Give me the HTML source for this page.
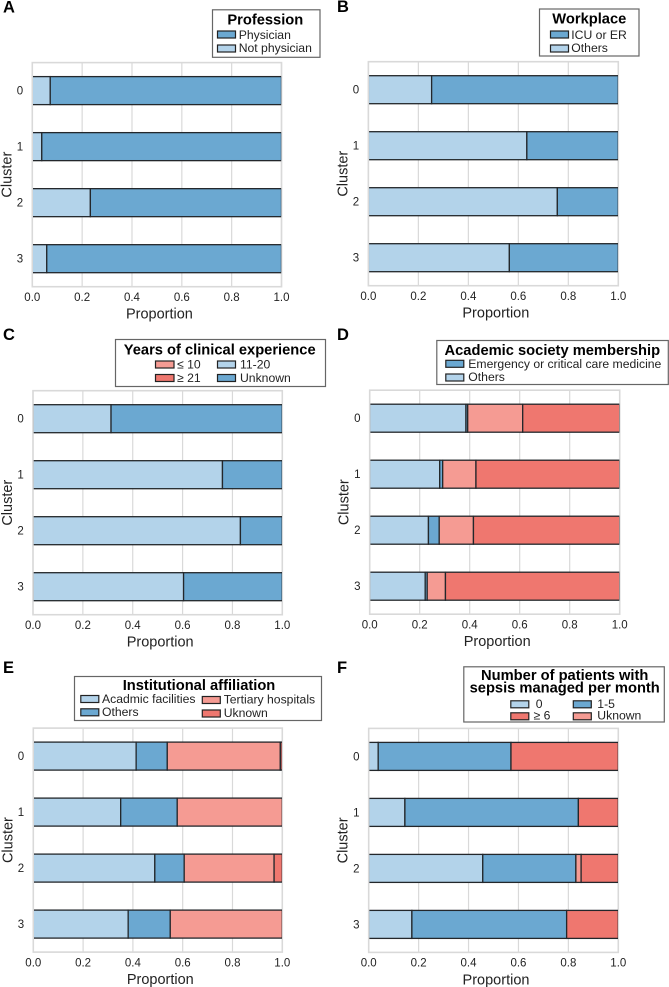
<!DOCTYPE html>
<html lang="en">
<head>
<meta charset="utf-8">
<title>Cluster proportions by respondent characteristics</title>
<style>
html,body{margin:0;padding:0;background:#fff;width:669px;height:987px;overflow:hidden}
svg{display:block;font-family:"Liberation Sans",Arial,sans-serif}
text{fill:#222}
.tick{font-size:11.5px}
.axis-title{font-size:14.5px}
.letter{font-size:16.5px;font-weight:bold;fill:#000}
.lt{font-size:14.7px;font-weight:bold;fill:#000;text-anchor:middle}
.li{font-size:12.2px}
.lb{fill:#fff;stroke:#666;stroke-width:1.2}
.lp{stroke:#222;stroke-width:1.2}
</style>
</head>
<body>
<svg id="figure" xmlns="http://www.w3.org/2000/svg" width="669" height="987" viewBox="0 0 669 987">
<rect width="669" height="987" fill="#fff"/>
<g id="plots"></g>

<text class="letter" x="3" y="12.3">A</text>
<text class="letter" x="337" y="12">B</text>
<text class="letter" x="3" y="340">C</text>
<text class="letter" x="337" y="340">D</text>
<text class="letter" x="3" y="673">E</text>
<text class="letter" x="337" y="673">F</text>

<g>
<rect class="lb" x="212.5" y="9.8" width="107.5" height="47.5"/>
<text class="lt" x="265.3" y="24.5">Profession</text>
<rect class="lp" x="217.5" y="31" width="18" height="7" fill="#6ba8d1"/>
<text class="li" x="238.7" y="38.8">Physician</text>
<rect class="lp" x="217.5" y="45" width="18" height="7" fill="#b3d3ea"/>
<text class="li" x="238.7" y="52.2">Not physician</text>
</g>

<g>
<rect class="lb" x="539.5" y="9" width="99.5" height="47"/>
<text class="lt" x="589.3" y="23.7">Workplace</text>
<rect class="lp" x="550.5" y="31" width="18" height="7" fill="#6ba8d1"/>
<text class="li" x="571.3" y="38.8">ICU or ER</text>
<rect class="lp" x="550.5" y="45" width="18" height="7" fill="#b3d3ea"/>
<text class="li" x="571.3" y="52.2">Others</text>
</g>

<g>
<rect class="lb" x="115.5" y="339.5" width="210" height="47"/>
<text class="lt" x="219.7" y="354.7">Years of clinical experience</text>
<rect class="lp" x="155.5" y="361" width="18.5" height="7" fill="#f59b93"/>
<text class="li" x="177" y="368.4">≤ 10</text>
<rect class="lp" x="155.5" y="374.5" width="18.5" height="7" fill="#ef776f"/>
<text class="li" x="177" y="382">≥ 21</text>
<rect class="lp" x="217.5" y="361" width="18" height="7" fill="#b3d3ea"/>
<text class="li" x="240" y="368.4">11-20</text>
<rect class="lp" x="217.5" y="374.5" width="18" height="7" fill="#6ba8d1"/>
<text class="li" x="240" y="382">Unknown</text>
</g>

<g>
<rect class="lb" x="436.8" y="340.5" width="231.5" height="44"/>
<text class="lt" x="552.3" y="355">Academic society membership</text>
<rect class="lp" x="445.8" y="360.3" width="18" height="7" fill="#6ba8d1"/>
<text class="li" x="468.3" y="367.8">Emergency or critical care medicine</text>
<rect class="lp" x="445.8" y="374" width="18" height="7" fill="#b3d3ea"/>
<text class="li" x="468.3" y="381">Others</text>
</g>

<g>
<rect class="lb" x="74.5" y="676.5" width="247" height="44"/>
<text class="lt" x="199" y="690">Institutional affiliation</text>
<rect class="lp" x="80.8" y="695.5" width="18" height="7" fill="#b3d3ea"/>
<text class="li" x="102" y="702.8">Acadmic facilities</text>
<rect class="lp" x="80.8" y="708.8" width="18" height="7" fill="#6ba8d1"/>
<text class="li" x="102" y="716">Others</text>
<rect class="lp" x="202.3" y="696.5" width="18" height="7" fill="#f59b93"/>
<text class="li" x="223.7" y="703.5">Tertiary hospitals</text>
<rect class="lp" x="202.3" y="710" width="18" height="7" fill="#ef776f"/>
<text class="li" x="223.7" y="717">Uknown</text>
</g>

<g>
<rect class="lb" x="463.8" y="666.8" width="200.5" height="55.2"/>
<text class="lt" x="564.7" y="680">Number of patients with</text>
<text class="lt" x="564.7" y="692.7">sepsis managed per month</text>
<rect class="lp" x="510.8" y="700.8" width="18" height="7" fill="#b3d3ea"/>
<text class="li" x="535.7" y="708">0</text>
<rect class="lp" x="510.8" y="712.8" width="18" height="7" fill="#ef776f"/>
<text class="li" x="533.5" y="719.5">≥ 6</text>
<rect class="lp" x="573.3" y="700.8" width="18" height="7" fill="#6ba8d1"/>
<text class="li" x="597.3" y="708">1-5</text>
<rect class="lp" x="573.3" y="712.8" width="18" height="7" fill="#f59b93"/>
<text class="li" x="597.3" y="719.5">Uknown</text>
</g>
</svg>

<script>
// Shared axis data
const clusterLabels = ['0', '1', '2', '3'];
const proportionTicks = [0, 0.2, 0.4, 0.6, 0.8, 1.0];

// Panel A: Profession
const aNotPhysician = [0.072, 0.038, 0.233, 0.058];
const aPhysician = [0.928, 0.962, 0.767, 0.942];

// Panel B: Workplace
const bOthers = [0.253, 0.634, 0.756, 0.564];
const bIcuOrEr = [0.747, 0.366, 0.244, 0.436];

// Panel C: Years of clinical experience
const c11to20 = [0.313, 0.760, 0.832, 0.604];
const cUnknown = [0.687, 0.240, 0.168, 0.396];

// Panel D: Academic society membership
const dOthers = [0.385, 0.280, 0.235, 0.222];
const dEmergency = [0.007, 0.012, 0.043, 0.008];
const dPink = [0.220, 0.133, 0.137, 0.073];
const dRed = [0.388, 0.575, 0.585, 0.697];

// Panel E: Institutional affiliation
const eAcademic = [0.413, 0.351, 0.488, 0.381];
const eOthers = [0.125, 0.227, 0.118, 0.169];
const eTertiary = [0.454, 0.422, 0.361, 0.450];
const eUnknown = [0.008, 0, 0.033, 0];

// Panel F: Patients with sepsis managed per month
const fZero = [0.038, 0.145, 0.457, 0.173];
const fOneToFive = [0.532, 0.695, 0.373, 0.620];
const fUnknown = [0, 0, 0.021, 0];
const fSixPlus = [0.430, 0.160, 0.149, 0.207];

const LIGHT = '#b3d3ea', BLUE = '#6ba8d1', PINK = '#f59b93', RED = '#ef776f';
const NS = 'http://www.w3.org/2000/svg';
const plots = document.getElementById('plots');

const panels = [
  {id: 'a', l: 32.3, r: 281.5, t: 62.6, b: 286.7, series: [['not-physician', aNotPhysician, LIGHT], ['physician', aPhysician, BLUE]]},
  {id: 'b', l: 368.4, r: 618.3, t: 61.7, b: 285.7, series: [['others', bOthers, LIGHT], ['icu-or-er', bIcuOrEr, BLUE]]},
  {id: 'c', l: 33, r: 282.3, t: 390.7, b: 614.7, series: [['11-20', c11to20, LIGHT], ['unknown', cUnknown, BLUE]]},
  {id: 'd', l: 369.7, r: 619.7, t: 390.2, b: 614.2, series: [['others', dOthers, LIGHT], ['emergency', dEmergency, BLUE], ['pink-group', dPink, PINK], ['red-group', dRed, RED]]},
  {id: 'e', l: 33.3, r: 282.3, t: 728.1, b: 952.1, series: [['academic', eAcademic, LIGHT], ['others', eOthers, BLUE], ['tertiary', eTertiary, PINK], ['unknown', eUnknown, RED]]},
  {id: 'f', l: 368.7, r: 618.3, t: 728.4, b: 952.4, series: [['zero', fZero, LIGHT], ['one-to-five', fOneToFive, BLUE], ['unknown', fUnknown, PINK], ['six-plus', fSixPlus, RED]]}
];

function el(tag, attrs, parent, text) {
  const n = document.createElementNS(NS, tag);
  for (const k in attrs) n.setAttribute(k, attrs[k]);
  if (text !== undefined) n.textContent = text;
  parent.appendChild(n);
  return n;
}
// Axis functions
function xScale(p, v) { return p.l + v * (p.r - p.l); }
function yBand(p) { return (p.b - p.t) / clusterLabels.length; }
function yCenter(p, i) { return p.t + yBand(p) * (i + 0.5); }

panels.forEach(function (p) {
  const g = el('g', {}, plots);
  
  

  proportionTicks.forEach(function (t) {
    const x = xScale(p, t);
    const grid = el('line', {x1: x, x2: x, y1: p.t, y2: p.b, stroke: '#d9d9d9', 'stroke-width': 1.2}, g);
    
    
    const lab = el('text', {x: x, y: p.b + 14.2, 'text-anchor': 'middle', 'class': 'tick'}, g, t.toFixed(1));
    
    
  });

  const frame = el('rect', {x: p.l, y: p.t, width: p.r - p.l, height: p.b - p.t, fill: 'none', stroke: '#d9d9d9', 'stroke-width': 1.6}, g);
  
  

  const clipId = 'clip-' + p.id;
  const cp = el('clipPath', {id: clipId}, g);
  el('rect', {x: p.l + 0.7, y: p.t, width: p.r - p.l - 1, height: p.b - p.t}, cp);
  const barsG = el('g', {'clip-path': 'url(#' + clipId + ')'}, g);
  
  

  clusterLabels.forEach(function (c, i) {
    const h = yBand(p) * 0.5;
    const top = yCenter(p, i) - h / 2;
    let cum = 0;
    p.series.forEach(function (s) {
      const v = s[1][i];
      if (v > 0) {
        const x0 = xScale(p, cum), x1 = xScale(p, cum + v);
        const seg = el('rect', {x: x0, y: top, width: x1 - x0, height: h, fill: s[2], stroke: '#23272b', 'stroke-width': 1.3}, barsG);
        
        
      }
      cum += v;
    });
    const yl = el('text', {x: p.l - 9.2, y: yCenter(p, i) + 4, 'text-anchor': 'end', 'class': 'tick'}, g, c);
    
    
  });

  const xt = el('text', {x: (p.l + p.r) / 2 + 2.5, y: p.b + 32, 'text-anchor': 'middle', 'class': 'axis-title'}, g, 'Proportion');
  
  

  const yx = p.l - 21, yy = (p.t + p.b) / 2;
  const yt = el('text', {x: yx, y: yy, 'text-anchor': 'middle', 'class': 'axis-title', transform: 'rotate(-90 ' + yx + ' ' + yy + ')'}, g, 'Cluster');
  
  
});
</script>
</body>
</html>
